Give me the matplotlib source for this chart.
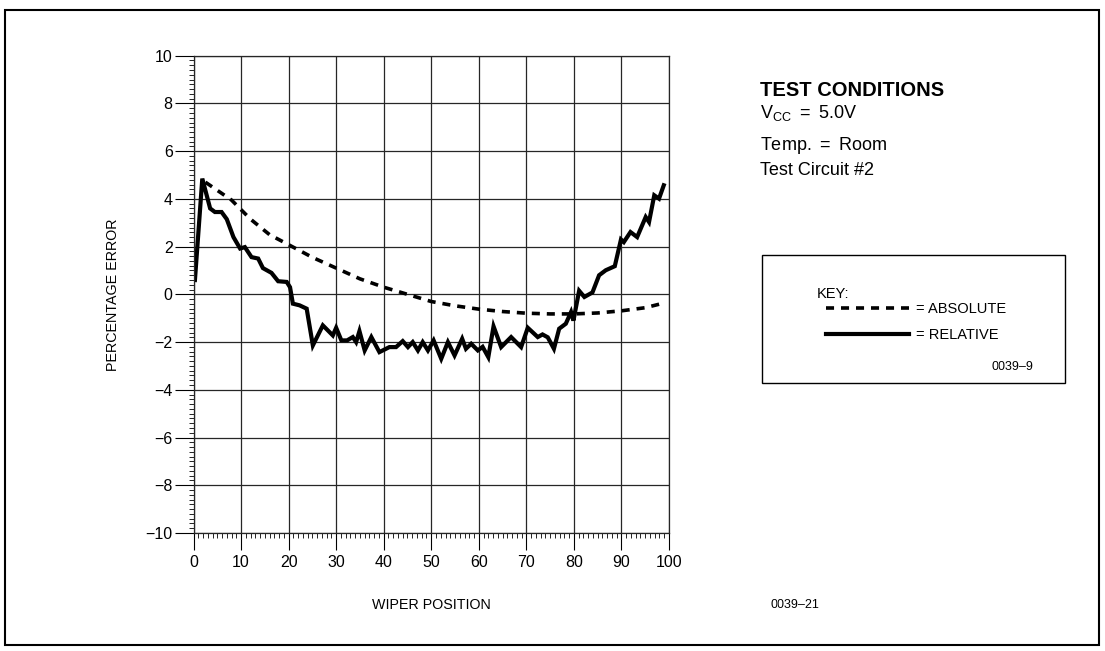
import matplotlib
matplotlib.use("Agg")
import matplotlib.pyplot as plt
from matplotlib.patches import Rectangle
from matplotlib.ticker import MultipleLocator

plt.rcParams['font.family'] = ['Liberation Sans', 'DejaVu Sans']
plt.rcParams['mathtext.fontset'] = 'custom'
plt.rcParams['mathtext.rm'] = 'Liberation Sans'
plt.rcParams['lines.scale_dashes'] = False

# absolute error curve (smooth, dashed)
abs_x = [2.5, 8, 12, 16, 20, 25, 30, 35, 40, 45, 50, 55, 60, 65, 70, 75, 80, 85, 90, 95, 99]
abs_y = [4.7, 3.95, 3.15, 2.5, 2.08, 1.55, 1.1, 0.65, 0.3, 0.0, -0.3, -0.48, -0.62,
         -0.72, -0.79, -0.82, -0.82, -0.78, -0.69, -0.56, -0.36]

# relative error curve (measured, solid)
rel_x = [0.3, 1.85, 3.5, 4.5, 5.9, 7.0, 8.4, 9.8, 10.8, 12.2, 13.6, 14.6, 16.4, 17.8,
         19.6, 20.3, 20.9, 22.3, 23.8, 25.1, 27.2, 29.3, 30.0, 31.1, 32.3, 33.5, 34.2,
         34.9, 36.0, 37.4, 39.1, 41.2, 42.6, 44.0, 45.1, 46.1, 47.2, 48.2, 49.3, 50.5,
         52.1, 53.5, 54.9, 56.5, 57.3, 58.4, 59.8, 60.8, 62.0, 63.1, 64.7, 66.8, 68.9,
         70.3, 72.4, 73.4, 74.5, 75.8, 76.9, 78.3, 79.4, 79.9, 81.1, 82.2, 83.9, 85.3,
         86.7, 88.6, 89.9, 90.5, 91.9, 93.3, 95.1, 95.8, 96.9, 97.9, 98.9]
rel_y = [0.6, 4.85, 3.6, 3.45, 3.45, 3.15, 2.4, 1.92, 1.98, 1.56, 1.5, 1.1, 0.9, 0.55,
         0.52, 0.3, -0.39, -0.46, -0.6, -2.14, -1.3, -1.72, -1.4, -1.93, -1.93, -1.79, -2.0,
         -1.54, -2.35, -1.79, -2.42, -2.21, -2.21, -1.96, -2.21, -2.0, -2.35, -2.0, -2.35, -1.93,
         -2.7, -2.0, -2.56, -1.86, -2.28, -2.07, -2.35, -2.2, -2.63, -1.34, -2.21, -1.79, -2.21,
         -1.4, -1.79, -1.68, -1.8, -2.28, -1.44, -1.23, -0.74, -1.1, 0.15, -0.11, 0.08, 0.8,
         1.01, 1.18, 2.3, 2.19, 2.61, 2.4, 3.24, 3.03, 4.15, 4.01, 4.57]

x_ticks = list(range(0, 101, 10))
y_ticks = list(range(-10, 11, 2))
y_ticklabels = ['\u221210', '\u22128', '\u22126', '\u22124', '\u22122', '0', '2', '4', '6', '8', '10']

W, H = 1105, 651
fig = plt.figure(figsize=(W / 100, H / 100), dpi=100)
ax = fig.add_axes([193.5 / W, 1 - 533 / H, 475.5 / W, 477.3 / H])

line_abs, = ax.plot(abs_x, abs_y, color='black', lw=2.6, linestyle=(0, (5.8, 5.0)))
line_rel, = ax.plot(rel_x, rel_y, color='black', lw=3.0, solid_joinstyle='miter')

ax.set_xlim(0, 100)
ax.set_ylim(-10, 10)
ax.set_xticks(x_ticks)
ax.set_yticks(y_ticks)
ax.set_yticklabels(y_ticklabels)
ax.xaxis.set_minor_locator(MultipleLocator(1))
ax.yaxis.set_minor_locator(MultipleLocator(0.2))
ax.grid(True, which='major', color='0.15', lw=0.9)
for s in ax.spines.values():
    s.set_color('0.15')
    s.set_linewidth(0.9)

ax.tick_params(axis='y', which='major', direction='out', length=14, width=0.8,
               pad=1, labelsize=11.5)
ax.tick_params(axis='y', which='minor', direction='out', length=3.5, width=0.6)
ax.tick_params(axis='x', which='major', direction='out', length=12, width=0.8,
               pad=4, labelsize=11.5)
ax.tick_params(axis='x', which='minor', direction='out', length=3.5, width=0.6)

ax.set_xlabel('WIPER POSITION', fontsize=10.3)
ax.xaxis.label.set_va('center')
ax.xaxis.set_label_coords(0.5, -0.151)
ax.set_ylabel('PERCENTAGE ERROR', fontsize=10.3)
ax.yaxis.label.set_va('center')
ax.yaxis.set_label_coords(-0.169, 0.5)

# outer frame and caption, cut off at the top edge as in the scan
fig.add_artist(Rectangle((5 / W, 1 - 645 / H), 1094 / W, 635 / H, transform=fig.transFigure,
                         fill=False, lw=1.5, ec='black'))
fig.text(-4 / W, 1 + 5 / H, 'Figure 9. Typical Linearity', fontsize=12, fontweight='bold',
         va='baseline', ha='left')

# test conditions
fig.text(760 / W, 1 - 96 / H, 'TEST CONDITIONS', fontsize=14.5, fontweight='bold', va='baseline')
fig.text(760 / W, 1 - 118 / H, r'V$_{\mathrm{CC}}$ $=$ 5.0V', fontsize=13, va='baseline')
fig.text(760 / W, 1 - 150 / H, 'Temp. $=$ Room', fontsize=13, va='baseline')
fig.text(760 / W, 1 - 175 / H, 'Test Circuit #2', fontsize=13, va='baseline')

# key box
fig.add_artist(Rectangle((762 / W, 1 - 383 / H), 303 / W, 128 / H, transform=fig.transFigure,
                         fill=False, lw=1.0, ec='black'))
fig.text(817 / W, 1 - 298 / H, 'KEY:', fontsize=10.5, va='baseline')
leg = fig.legend([line_abs, line_rel], ['= ABSOLUTE', '= RELATIVE'], loc='upper left',
                 bbox_to_anchor=(826 / W, 1 - 302 / H), frameon=False, fontsize=10.5,
                 handlelength=5.7, handletextpad=0.5, labelspacing=0.85, borderpad=0,
                 borderaxespad=0)
fig.text(1033 / W, 1 - 370 / H, '0039\u20139', fontsize=9, ha='right', va='baseline')

fig.text(795 / W, 1 - 605 / H, '0039\u201321', fontsize=9, ha='center', va='center')

fig.savefig('out.png', dpi=100)
